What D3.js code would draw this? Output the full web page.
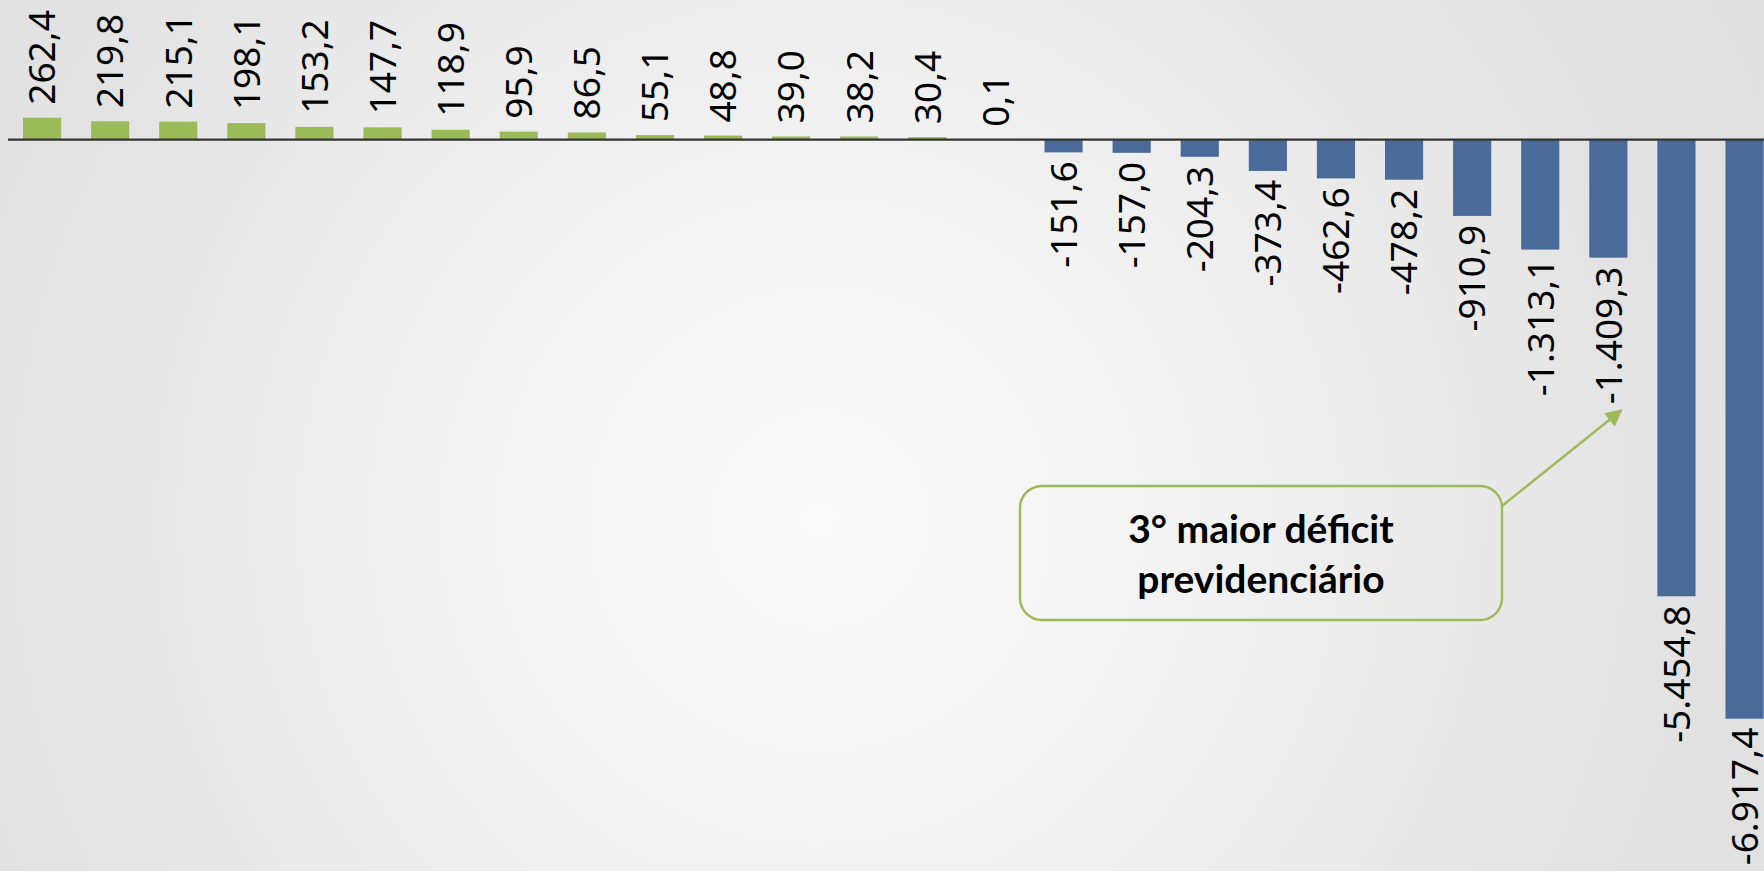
<!DOCTYPE html>
<html>
<head>
<meta charset="utf-8">
<script src="https://cdn.jsdelivr.net/npm/d3@7"></script>
<style>
  html, body { margin: 0; padding: 0; overflow: hidden; }
  body { width: 1764px; height: 871px; }
  svg { display: block; }
</style>
</head>
<body id="body">
<svg></svg>
<script>
// saldo previdenciário por ente (R$ milhões) - ordem do gráfico
const values = [262.4, 219.8, 215.1, 198.1, 153.2, 147.7, 118.9, 95.9, 86.5, 55.1, 48.8, 39.0, 38.2, 30.4, 0.1,
                -151.6, -157.0, -204.3, -373.4, -462.6, -478.2, -910.9, -1313.1, -1409.3, -5454.8, -6917.4];
const barIds = values.map((d, i) => i);
const calloutLines = ["3° maior déficit", "previdenciário"];
const calloutTarget = 23;

const width = 1764;
const height = 871;

const green = "#9bbb59";
const blue = "#4a6a99";

const svg = d3.select("svg")
              .attr("width", width)
              .attr("height", height);

// background gradient
const defs = svg.append("defs");
const grad = defs.append("radialGradient")
                 .attr("id", "bg")
                 .attr("gradientUnits", "userSpaceOnUse")
                 .attr("cx", 820).attr("cy", 520).attr("r", 1050);
grad.append("stop").attr("offset", "0%").attr("stop-color", "#fbfbfb");
grad.append("stop").attr("offset", "35%").attr("stop-color", "#f2f2f2");
grad.append("stop").attr("offset", "80%").attr("stop-color", "#e3e3e3");
grad.append("stop").attr("offset", "100%").attr("stop-color", "#e0e0e0");

defs.append("marker")
    .attr("id", "arrow")
    .attr("markerUnits", "userSpaceOnUse")
    .attr("viewBox", "0 0 10 10")
    .attr("refX", 9).attr("refY", 5)
    .attr("markerWidth", 19).attr("markerHeight", 17)
    .attr("orient", "auto")
    .append("path")
    .attr("d", "M0,0 L10,5 L0,10 Z")
    .attr("fill", green);

svg.append("rect")
   .attr("width", width)
   .attr("height", height)
   .attr("fill", "url(#bg)");

const x = d3.scaleBand()
            .domain(barIds)
            .range([8, 8 + 26 * 68.1])
            .paddingInner(0.44)
            .paddingOuter(0.22);

const y = d3.scaleLinear()
            .domain([-7000, 400])
            .range([725.6, 106.2]);

const locale = d3.formatLocale({decimal: ",", thousands: ".", grouping: [3], currency: ["R$", ""], minus: "-"});
const fmt = locale.format(",.1f");

const G = svg.append("g");

G.selectAll("rect.bar")
 .data(values)
 .enter()
 .append("rect")
 .attr("class", "bar")
 .attr("x", (d, i) => x(i))
 .attr("width", x.bandwidth())
 .attr("y", d => d >= 0 ? y(d) : y(0))
 .attr("height", d => Math.abs(y(d) - y(0)))
 .attr("fill", d => d >= 0 ? green : blue);

// zero line
svg.append("line")
   .attr("x1", 8)
   .attr("x2", width)
   .attr("y1", y(0))
   .attr("y2", y(0))
   .attr("stroke", "#333")
   .attr("stroke-width", 2.2);

// data labels
const labels = G.selectAll("text.label")
 .data(values)
 .enter()
 .append("text")
 .attr("class", "label")
 .attr("transform", (d, i) => {
   const cx = x(i) + x.bandwidth() / 2;
   const ly = d >= 0 ? y(d) - 13 : y(d) + 9;
   return "translate(" + cx + "," + ly + ") rotate(-90)";
 })
 .attr("dy", "0.36em")
 .attr("text-anchor", d => d >= 0 ? "start" : "end")
 .style("font-family", "'Noto Sans', 'Open Sans', sans-serif")
 .style("font-size", "37px")
 .style("fill", "#000")
 .text(d => fmt(d));

// callout
const target = values[calloutTarget];
const tipX = x(calloutTarget) + x.bandwidth() / 2 + 13;
const labelNode = labels.filter((d, i) => i === calloutTarget).node();
const tipY = y(target) + 9 + labelNode.getComputedTextLength() + 6;

const box = {x: 1020, y: 486, w: 482, h: 134};

svg.append("line")
   .attr("x1", box.x + box.w)
   .attr("y1", box.y + 20)
   .attr("x2", tipX)
   .attr("y2", tipY)
   .attr("stroke", green)
   .attr("stroke-width", 2.4)
   .attr("marker-end", "url(#arrow)");

svg.append("rect")
   .attr("x", box.x)
   .attr("y", box.y)
   .attr("width", box.w)
   .attr("height", box.h)
   .attr("rx", 22)
   .attr("fill", "none")
   .attr("stroke", green)
   .attr("stroke-width", 2.4);

svg.append("g")
   .selectAll("text")
   .data(calloutLines)
   .enter()
   .append("text")
   .attr("x", box.x + box.w / 2)
   .attr("y", (d, i) => 543 + i * 50)
   .attr("text-anchor", "middle")
   .style("font-family", "Lato, 'Open Sans', sans-serif")
   .style("font-weight", "bold")
   .style("font-size", "39px")
   .style("fill", "#000")
   .text(d => d);
</script>
</body>
</html>
